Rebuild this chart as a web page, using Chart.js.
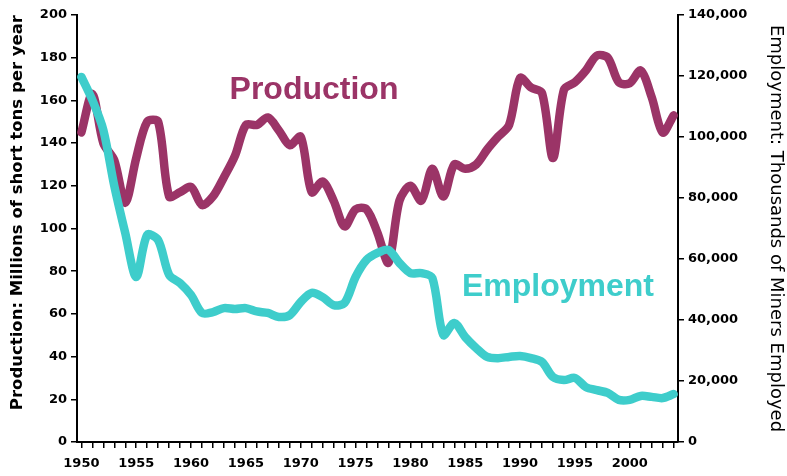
<!DOCTYPE html>
<html>
<head>
<meta charset="utf-8">
<script src="https://cdn.jsdelivr.net/npm/chart.js@4"></script>
<style>
  html, body { margin: 0; padding: 0; background: #fff; }
  #wrap { width: 787px; height: 476px; }
</style>
</head>
<body>
<div id="wrap"><canvas id="coalChart" width="787" height="476"></canvas></div>
<script>
const years = [];
for (let y = 1950; y <= 2004; y++) years.push(y);

// millions of short tons
const production = [
  145, 163, 140, 132, 112, 133, 150, 150, 115, 117,
  119.5, 111, 115, 124, 134, 148.5, 148.5, 152, 146, 139,
  143, 117, 122, 113, 101, 109, 109, 98, 84, 113,
  120, 113, 128, 115, 130, 128, 130, 137, 143, 148.5,
  170.5, 166, 163.5, 133, 165, 168.5, 174, 181, 180, 168.5,
  168, 174, 161.5, 145, 153
];

// miners employed
const employment = [
  119700, 112100, 102300, 84000, 68500, 54100, 67900, 66200, 54800, 52100,
  48200, 42300, 42600, 43900, 43600, 43900, 42800, 42300, 41000, 41600,
  45900, 48900, 47500, 44900, 45600, 54100, 59700, 62000, 63000, 58700,
  55400, 55400, 53800, 35100, 39000, 34400, 30800, 27900, 27500, 27900,
  28200, 27500, 26200, 21300, 20300, 21000, 18000, 17000, 16100, 13800,
  13800, 15100, 14800, 14400, 15700
];

const purple = '#9b3467';
const teal = '#3ecdcb';

function pts(arr) {
  return arr.map((v, i) => ({ x: years[i], y: v }));
}

const seriesLabels = {
  id: 'seriesLabels',
  afterDatasetsDraw(chart) {
    const ctx = chart.ctx;
    ctx.save();
    ctx.font = 'bold 32px "Liberation Sans", Arial, sans-serif';
    ctx.textAlign = 'center';
    ctx.textBaseline = 'alphabetic';
    ctx.fillStyle = purple;
    ctx.fillText('Production', 314, 99);
    ctx.fillStyle = teal;
    ctx.fillText('Employment', 558, 296);
    ctx.restore();
  }
};

const tickFont = { family: '"DejaVu Sans", Verdana, sans-serif', size: 13, weight: 'bold' };

new Chart(document.getElementById('coalChart').getContext('2d'), {
  type: 'line',
  data: {
    datasets: [
      {
        label: 'Production',
        data: pts(production),
        yAxisID: 'y',
        borderColor: purple,
        borderWidth: 8.5,
        tension: 0.3,
        pointRadius: 0,
        borderCapStyle: 'round',
        borderJoinStyle: 'round',
        fill: false,
        order: 2
      },
      {
        label: 'Employment',
        data: pts(employment),
        yAxisID: 'y1',
        borderColor: teal,
        borderWidth: 8.5,
        tension: 0.3,
        pointRadius: 0,
        borderCapStyle: 'round',
        borderJoinStyle: 'round',
        fill: false,
        order: 1
      }
    ]
  },
  options: {
    responsive: false,
    animation: false,
    devicePixelRatio: 1,
    layout: { padding: { top: 15, left: 0, right: 0, bottom: 0 } },
    plugins: {
      legend: { display: false },
      tooltip: { enabled: false }
    },
    scales: {
      x: {
        type: 'linear',
        min: 1949.6,
        max: 2004.4,
        afterFit: (s) => { s.height = 34; },
        border: { display: true, color: '#000', width: 2 },
        grid: { drawOnChartArea: false, drawTicks: true, tickLength: 6, color: '#000', lineWidth: 1.5 },
        ticks: {
          stepSize: 1,
          includeBounds: false,
          autoSkip: false,
          maxRotation: 0,
          padding: 8,
          color: '#000',
          font: tickFont,
          callback: (v) => (v % 5 === 0 ? String(v) : '')
        }
      },
      y: {
        position: 'left',
        min: 0,
        max: 200,
        afterFit: (s) => { s.width = 77; },
        border: { display: true, color: '#000', width: 2 },
        grid: { drawOnChartArea: false, drawTicks: true, tickLength: 6, color: '#000', lineWidth: 1.5 },
        ticks: { stepSize: 20, color: '#000', font: tickFont, padding: 4 },
        title: {
          display: true,
          align: 'end',
          text: 'Production: Millions of short tons per year',
          color: '#000',
          font: { family: '"DejaVu Sans", Verdana, sans-serif', size: 16.5, weight: 'bold' },
          padding: { top: 8, bottom: 0 }
        }
      },
      y1: {
        position: 'right',
        min: 0,
        max: 140000,
        afterFit: (s) => { s.width = 109; },
        border: { display: true, color: '#000', width: 2 },
        grid: { drawOnChartArea: false, drawTicks: true, tickLength: 6, color: '#000', lineWidth: 1.5 },
        ticks: {
          stepSize: 20000,
          color: '#000',
          font: tickFont,
          padding: 4,
          callback: (v) => v.toLocaleString('en-US')
        },
        title: {
          display: true,
          text: 'Employment: Thousands of Miners Employed',
          color: '#000',
          font: { family: '"DejaVu Sans", Verdana, sans-serif', size: 18 },
          padding: { top: 1, bottom: 0 }
        }
      }
    }
  },
  plugins: [seriesLabels]
});
</script>
</body>
</html>
